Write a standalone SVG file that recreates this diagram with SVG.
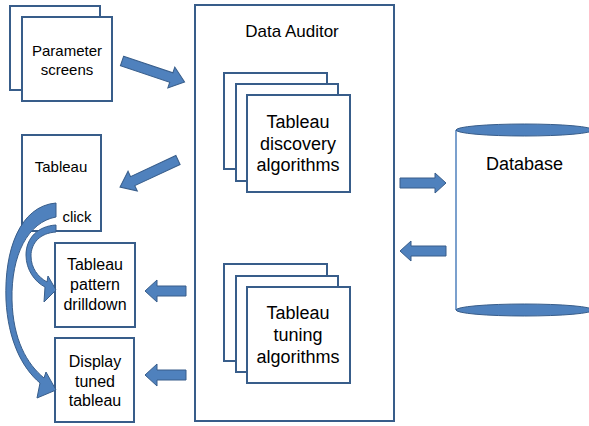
<svg xmlns="http://www.w3.org/2000/svg" width="589" height="426" viewBox="0 0 589 426">
<style>
.box{fill:#fff;stroke:#385D8A;stroke-width:2}
.arr{fill:#4F81BD;stroke:#385D8A;stroke-width:1}
.t{font-family:"Liberation Sans",Arial,sans-serif;fill:#000;text-anchor:middle}
.s15{font-size:15px}
.s16{font-size:16px}
.s17{font-size:17px}
.s18{font-size:18px}
</style>
<defs>
<polygon id="a66" points="0,-5 52,-5 52,-11 66,0 52,11 52,5 0,5"/>
<polygon id="a64" points="0,-5 50,-5 50,-11 64,0 50,11 50,5 0,5"/>
<polygon id="a41" points="0,-5 29,-5 29,-11 41,0 29,11 29,5 0,5"/>
<polygon id="a46" points="0,-5 35,-5 35,-10 46,0 35,10 35,5 0,5"/>
</defs>
<g id="data-auditor">
<rect class="box" x="195" y="5" width="199" height="416"/>
<text class="t s17" x="292" y="37">Data Auditor</text>
</g>
<g id="parameter-screens">
<rect class="box" x="10" y="6" width="90" height="84"/>
<rect class="box" x="22" y="17" width="90" height="84"/>
<text class="t s15" x="67" y="56">Parameter</text>
<text class="t s15" x="67" y="75">screens</text>
</g>
<g id="tableau">
<rect class="box" x="22" y="135" width="79" height="96"/>
<text class="t s15" x="61" y="172">Tableau</text>
<text class="t s15" x="77" y="222">click</text>
</g>
<g id="tableau-pattern-drilldown">
<rect class="box" x="55" y="243" width="80" height="84"/>
<text class="t s16" x="95" y="270">Tableau</text>
<text class="t s16" x="95" y="290">pattern</text>
<text class="t s16" x="95" y="310">drilldown</text>
</g>
<g id="display-tuned-tableau">
<rect class="box" x="55" y="338" width="79" height="84"/>
<text class="t s16" x="95" y="367">Display</text>
<text class="t s16" x="95" y="387">tuned</text>
<text class="t s16" x="95" y="406">tableau</text>
</g>
<g id="discovery-algorithms">
<rect class="box" x="224" y="73" width="103" height="96"/>
<rect class="box" x="236" y="84" width="102" height="97"/>
<rect class="box" x="247" y="95" width="103" height="97"/>
<text class="t s18" x="298" y="128">Tableau</text>
<text class="t s18" x="298" y="150">discovery</text>
<text class="t s18" x="298" y="171">algorithms</text>
</g>
<g id="tuning-algorithms">
<rect class="box" x="224" y="264" width="103" height="97"/>
<rect class="box" x="236" y="276" width="102" height="96"/>
<rect class="box" x="247" y="287" width="103" height="96"/>
<text class="t s18" x="298" y="319">Tableau</text>
<text class="t s18" x="298" y="341">tuning</text>
<text class="t s18" x="298" y="363">algorithms</text>
</g>
<g id="database">
<rect x="456" y="130" width="137" height="180" fill="#fff"/>
<line x1="456" y1="130" x2="456" y2="310" stroke="#4F81BD" stroke-width="1.5"/>
<ellipse class="arr" cx="524.5" cy="310" rx="68.5" ry="6"/>
<ellipse class="arr" cx="524.5" cy="130" rx="68.5" ry="6"/>
<text class="t s18" x="524.5" y="170">Database</text>
</g>
<g id="connectors">
<use href="#a66" class="arr" transform="translate(122,61) rotate(18.5)"/>
<use href="#a64" class="arr" transform="translate(178,160) rotate(155)"/>
<use href="#a41" class="arr" transform="translate(186,291) rotate(180)"/>
<use href="#a41" class="arr" transform="translate(186,375) rotate(180)"/>
<use href="#a46" class="arr" transform="translate(400,183)"/>
<use href="#a46" class="arr" transform="translate(446,251) rotate(180)"/>
<path class="arr" d="M56 203 C20 206,4 250,6 300 C8 340,22 368,40 383 L37 398 L56 390 L46 372 L44 378 C27 364,13 340,12 300 C11 255,28 222,56 217 Z"/>
<path class="arr" d="M56 225 C38 226,26 238,26 255 C26 270,35 282,45 287 L44 302 L56 290 L48 276 L47 282 C38 277,31 268,31 256 C31 243,40 233,56 232 Z"/>
</g>
</svg>
